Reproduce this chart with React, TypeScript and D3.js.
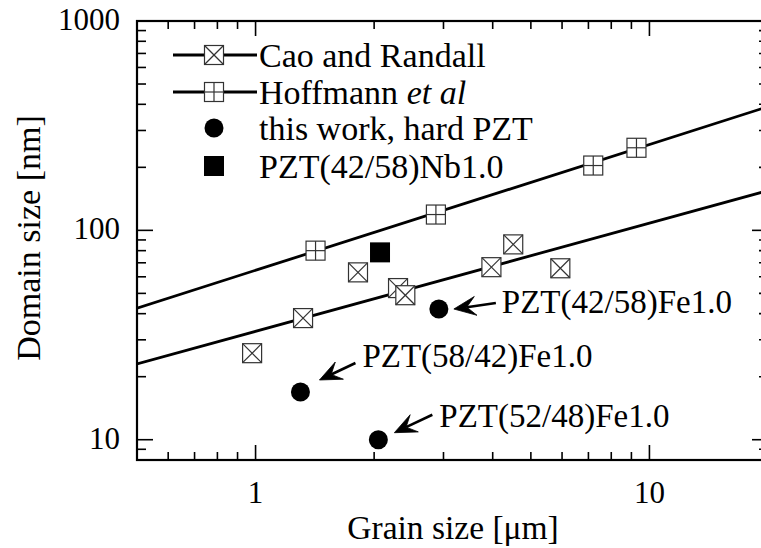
import React from "react";
import * as d3 from "d3";

const caoX = [0.98, 1.32, 1.82, 2.3, 2.4, 3.97, 4.51, 5.94];
const caoY = [25.9, 38.1, 63, 53, 49, 66.7, 85.7, 65.9];
const hofX = [1.42, 2.87, 7.2, 9.27];
const hofY = [80, 119, 204, 248];
const workX = [1.3, 2.05, 2.92];
const workY = [16.9, 10, 42.1];
const workLabels = ["PZT(58/42)Fe1.0", "PZT(52/48)Fe1.0", "PZT(42/58)Fe1.0"];
const nbX = [2.07];
const nbY = [78.5];
const caoFitX = [0.5, 20];
const caoFitY = [23, 155];
const hofFitX = [0.5, 20];
const hofFitY = [42.5, 390];
const xMajor = [1, 10];
const xMajorLabels = ["1", "10"];
const yMajor = [10, 100, 1000];
const yMajorLabels = ["10", "100", "1000"];
const legendLabels = ["Cao and Randall", "Hoffmann", "this work, hard PZT", "PZT(42/58)Nb1.0"];

const W = 761, H = 548;
const L = 137, R = 768, T = 21, B = 460;
const FONT = "'Liberation Serif', 'Times New Roman', serif";

const x = d3.scaleLog().domain([0.5, 20]).range([L, R]);
const y = d3.scaleLog().domain([8, 1000]).range([B, T]);

const xMinor: number[] = [];
[0.1, 1, 10].forEach((d) => { for (let k = 1; k <= 9; k++) { const v = d * k; if (v > 0.5 && v < 20 && !xMajor.includes(v)) xMinor.push(+v.toFixed(3)); } });
const yMinor: number[] = [];
[1, 10, 100].forEach((d) => { for (let k = 1; k <= 9; k++) { const v = d * k; if (v > 8 && v < 1000 && !yMajor.includes(v)) yMinor.push(v); } });

const MS = 19;

function BoxX({ cx, cy }: { cx: number; cy: number }) {
  const h = MS / 2;
  return (
    <g stroke="#333" strokeWidth={1.2} fill="white">
      <rect x={cx - h} y={cy - h} width={MS} height={MS} />
      <line x1={cx - h} y1={cy - h} x2={cx + h} y2={cy + h} />
      <line x1={cx - h} y1={cy + h} x2={cx + h} y2={cy - h} />
    </g>
  );
}
function BoxPlus({ cx, cy }: { cx: number; cy: number }) {
  const h = MS / 2;
  return (
    <g stroke="#333" strokeWidth={1.2} fill="white">
      <rect x={cx - h} y={cy - h} width={MS} height={MS} />
      <line x1={cx} y1={cy - h} x2={cx} y2={cy + h} />
      <line x1={cx - h} y1={cy} x2={cx + h} y2={cy} />
    </g>
  );
}

// annotation offsets relative to the data point: [headDx, headDy, tailDx, tailDy, textDx, textDy]
const annOffsets = [
  [19, -12, 55, -29, 62, -25],
  [16, -7, 54, -25, 61, -13],
  [15, 0, 57, -6, 63, 4],
];

function Arrow({ x1, y1, x2, y2 }: { x1: number; y1: number; x2: number; y2: number }) {
  const dx = x2 - x1, dy = y2 - y1;
  const len = Math.hypot(dx, dy);
  const ux = dx / len, uy = dy / len;
  const nx = -uy, ny = ux;
  const Lh = 22, Wh = 9.5, notch = 13;
  const p1 = [x2 - Lh * ux + Wh * nx, y2 - Lh * uy + Wh * ny];
  const p2 = [x2 - notch * ux, y2 - notch * uy];
  const p3 = [x2 - Lh * ux - Wh * nx, y2 - Lh * uy - Wh * ny];
  return (
    <g>
      <line x1={x1} y1={y1} x2={p2[0]} y2={p2[1]} stroke="black" strokeWidth={2.6} />
      <path d={`M${x2},${y2}L${p1[0]},${p1[1]}L${p2[0]},${p2[1]}L${p3[0]},${p3[1]}Z`} fill="black" stroke="black" strokeWidth={0.8} strokeLinejoin="round" />
    </g>
  );
}

export default function App() {
  const caoPath = d3.line<number>().x((d) => x(d)).y((_, i) => y(caoFitY[i]))(caoFitX) || "";
  const hofPath = d3.line<number>().x((d) => x(d)).y((_, i) => y(hofFitY[i]))(hofFitX) || "";
  const legY = [55, 92, 128, 166];
  return (
    <svg width={W} height={H} style={{ position: "absolute", left: 0, top: 0, background: "white" }} fontFamily={FONT}>
      <defs>
        <clipPath id="plot">
          <rect x={L} y={T} width={R - L} height={B - T} />
        </clipPath>
      </defs>
      {/* ticks */}
      <g stroke="black" strokeWidth={1.6}>
        {xMajor.map((v) => (
          <g key={"xM" + v}>
            <line x1={x(v)} x2={x(v)} y1={B} y2={B - 15} />
            <line x1={x(v)} x2={x(v)} y1={T} y2={T + 15} />
          </g>
        ))}
        {xMinor.map((v) => (
          <g key={"xm" + v}>
            <line x1={x(v)} x2={x(v)} y1={B} y2={B - 8} />
            <line x1={x(v)} x2={x(v)} y1={T} y2={T + 8} />
          </g>
        ))}
        {yMajor.map((v) => (
          <g key={"yM" + v}>
            <line x1={L} x2={L + 16} y1={y(v)} y2={y(v)} />
            <line x1={R} x2={R - 16} y1={y(v)} y2={y(v)} />
          </g>
        ))}
        {yMinor.map((v) => (
          <g key={"ym" + v}>
            <line x1={L} x2={L + 9} y1={y(v)} y2={y(v)} />
            <line x1={R} x2={R - 9} y1={y(v)} y2={y(v)} />
          </g>
        ))}
      </g>
      <rect x={L} y={T} width={R - L} height={B - T} fill="none" stroke="black" strokeWidth={2.2} />
      {/* tick labels */}
      <g fontSize={31} fill="black">
        {xMajor.map((v, i) => (
          <text key={"xl" + v} x={x(v)} y={503} textAnchor="middle">{xMajorLabels[i]}</text>
        ))}
        {yMajor.map((v, i) => (
          <text key={"yl" + v} x={120} y={y(v) + 9} textAnchor="end">{yMajorLabels[i]}</text>
        ))}
      </g>
      <text x={453} y={539} textAnchor="middle" fontSize={33.5}>Grain size [μm]</text>
      <text transform={`translate(40,238) rotate(-90)`} textAnchor="middle" fontSize={34}>Domain size [nm]</text>
      {/* fit lines */}
      <g clipPath="url(#plot)" fill="none" stroke="black" strokeWidth={2.8}>
        <path d={caoPath} />
        <path d={hofPath} />
      </g>
      {/* data */}
      {caoX.map((v, i) => (
        <BoxX key={"c" + i} cx={x(v)} cy={y(caoY[i])} />
      ))}
      {hofX.map((v, i) => (
        <BoxPlus key={"h" + i} cx={x(v)} cy={y(hofY[i])} />
      ))}
      {nbX.map((v, i) => (
        <rect key={"n" + i} x={x(v) - 10} y={y(nbY[i]) - 10} width={20} height={20} fill="black" />
      ))}
      {workX.map((v, i) => (
        <circle key={"w" + i} cx={x(v)} cy={y(workY[i])} r={9.5} fill="black" />
      ))}
      {/* annotations */}
      {workX.map((v, i) => {
        const px = x(v), py = y(workY[i]);
        const o = annOffsets[i];
        return (
          <g key={"a" + i}>
            <Arrow x1={px + o[2]} y1={py + o[3]} x2={px + o[0]} y2={py + o[1]} />
            <text x={px + o[4]} y={py + o[5]} fontSize={33}>{workLabels[i]}</text>
          </g>
        );
      })}
      {/* legend */}
      <g>
        <line x1={173} x2={257} y1={legY[0]} y2={legY[0]} stroke="black" strokeWidth={2.8} />
        <BoxX cx={214} cy={legY[0]} />
        <line x1={173} x2={257} y1={legY[1]} y2={legY[1]} stroke="black" strokeWidth={2.8} />
        <BoxPlus cx={214} cy={legY[1]} />
        <circle cx={214} cy={legY[2]} r={9.5} fill="black" />
        <rect x={204} y={legY[3] - 10} width={20} height={20} fill="black" />
        <g fontSize={34}>
          <text x={259} y={legY[0] + 12}>{legendLabels[0]}</text>
          <text x={259} y={legY[1] + 12}>{legendLabels[1]} <tspan fontStyle="italic">et al</tspan></text>
          <text x={259} y={legY[2] + 12}>{legendLabels[2]}</text>
          <text x={259} y={legY[3] + 12}>{legendLabels[3]}</text>
        </g>
      </g>
    </svg>
  );
}
